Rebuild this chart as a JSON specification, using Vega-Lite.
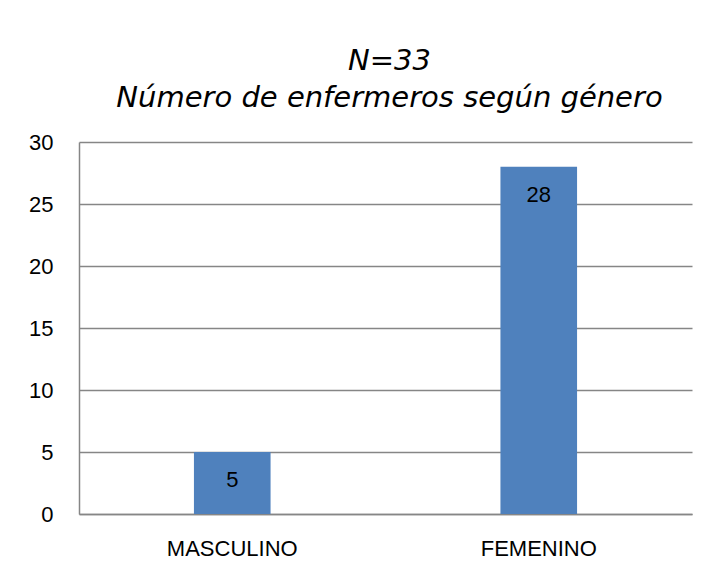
{
  "$schema": "https://vega.github.io/schema/vega-lite/v6.json",
  "width": 613,
  "height": 372,
  "autosize": {"type": "none"},
  "padding": {"left": 79, "top": 142, "right": 17, "bottom": 62},
  "background": "white",
  "title": {
    "text": ["N=33", "Número de enfermeros según género"],
    "anchor": "middle",
    "frame": "group",
    "font": "DejaVu Sans",
    "fontSize": 29,
    "fontStyle": "italic",
    "fontWeight": "normal",
    "color": "#000000",
    "lineHeight": 37,
    "offset": 18,
    "dx": 4
  },
  "config": {
    "view": {"stroke": null},
    "axis": {
      "labelFont": "Liberation Sans",
      "labelFontSize": 22,
      "labelColor": "#000000",
      "domainColor": "#868686",
      "domainWidth": 1.5,
      "gridColor": "#868686",
      "gridWidth": 1.5,
      "ticks": false,
      "title": null
    }
  },
  "data": {
    "values": [
      {"genero": "MASCULINO", "n": 5},
      {"genero": "FEMENINO", "n": 28}
    ]
  },
  "encoding": {
    "x": {
      "field": "genero",
      "type": "nominal",
      "sort": null,
      "scale": {"paddingInner": 0.75, "paddingOuter": 0.375},
      "axis": {"labelAngle": 0, "labelPadding": 24, "grid": false}
    },
    "y": {
      "field": "n",
      "type": "quantitative",
      "scale": {"domain": [0, 30], "nice": false},
      "axis": {"values": [0, 5, 10, 15, 20, 25, 30], "labelPadding": 26, "grid": true}
    }
  },
  "layer": [
    {"mark": {"type": "bar", "color": "#4F81BD"}},
    {
      "mark": {
        "type": "text",
        "baseline": "middle",
        "align": "center",
        "dy": 28,
        "font": "Liberation Sans",
        "fontSize": 22,
        "color": "#000000"
      },
      "encoding": {"text": {"field": "n", "type": "quantitative"}}
    }
  ]
}
